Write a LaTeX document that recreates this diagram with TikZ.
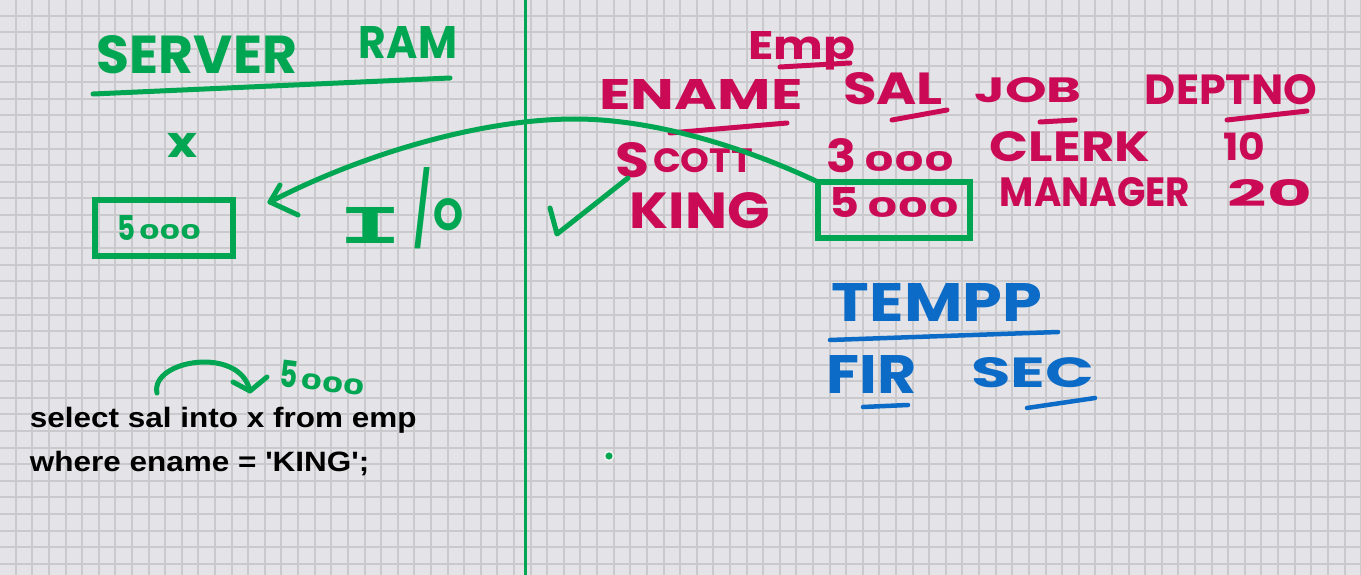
\documentclass[tikz,border=0pt]{standalone}
\usepackage{fontspec}
\usepackage{graphicx}
\newfontfamily\hand{Poppins}
\newfontfamily\codefont{Liberation Sans}
\newfontfamily\monofont{Liberation Mono}
\definecolor{bg}{HTML}{E4E3E7}
\definecolor{gridc}{HTML}{CACACD}
\definecolor{gr}{HTML}{00A651}
\definecolor{cr}{HTML}{CA0A55}
\definecolor{bl}{HTML}{0B6BC6}
\newcommand{\hw}[3]{\resizebox{#1pt}{#2pt}{\hand\bfseries #3}}
\begin{document}
\begin{tikzpicture}[x=1pt,y=-1pt,
  word/.style={inner sep=0pt, outer sep=0pt},
  gword/.style={word, text=gr},
  cword/.style={word, text=cr},
  bword/.style={word, text=bl},
  gink/.style={draw=gr, line width=5pt, line cap=round, line join=round},
  cink/.style={draw=cr, line width=5pt, line cap=round},
  bink/.style={draw=bl, line width=4.5pt, line cap=round},
  gbox/.style={draw=gr, line width=5.5pt, inner sep=0pt, outer sep=0pt},
  code/.style={word, text=black, font=\codefont\bfseries\fontsize{28}{32}\selectfont, anchor=base west}
]
\useasboundingbox (0,0) rectangle (1361,575);
\fill[bg] (0,0) rectangle (1361,575);
\foreach \i in {0,...,82} \draw[gridc, line width=2pt] ({-0.9+16.61*\i},0) -- ({-0.9+16.61*\i},575);
\foreach \j in {0,...,35} \draw[gridc, line width=2pt] (0,{-0.9+16.61*\j}) -- (1361,{-0.9+16.61*\j});

% divider
\draw[draw=gr, line width=3pt] (525,0) -- (525,575);

% left side
\node[gword] (server) at (197,55) {\hw{200}{38}{SERVER}};
\node[gword] (ram) at (408,43) {\hw{98}{32}{RAM}};
\draw[gink] (93,94) -- (450,78);
\node[gword] (xvar) at (183,145) {\hw{30}{24}{x}};
\node[gbox, minimum width=138pt, minimum height=56pt] (lbox) at (164,228) {};
\node[gword, anchor=base west] (lval) at (117,240) {\hw{18}{25}{5}\hspace{4pt}\hw{62}{15}{000}};
\node[gword, anchor=base west] (io) at (338,243)
  {\resizebox{64pt}{36pt}{\monofont\bfseries I}\hspace{12pt}\raisebox{8pt}{\resizebox{16pt}{68pt}{\hand\bfseries /}}\hspace{3pt}\raisebox{13pt}{\resizebox{30pt}{32pt}{\hand\bfseries O}}};

% right side table
\node[cword, anchor=base west] (emp) at (748,60) {\resizebox{107pt}{28pt}{\hand\bfseries Emp}};
\draw[cink] (780,67) -- (850,63);
\node[cword] (ename) at (701,95) {\hw{203}{30}{ENAME}};
\node[cword] (sal) at (893,89) {\hw{100}{32}{SAL}};
\node[cword] (job) at (1028,90) {\hw{107}{25}{JOB}};
\node[cword] (deptno) at (1231,90) {\hw{172}{30}{DEPTNO}};
\draw[cink] (670,133) -- (787,123);
\draw[cink] (892,120) -- (947,110);
\draw[cink] (1040,122) -- (1075,120);
\draw[cink] (1227,120) -- (1307,111);

\node[cword, anchor=base west] (scott) at (615,177) {\hw{34}{35}{S}\hspace{4pt}\raisebox{5pt}{\hw{100}{24}{COTT}}};
\node[cword, anchor=base west] (s3000) at (826,172) {\hw{30}{34}{3}\hspace{8pt}\hw{90}{20}{000}};
\node[cword] (clerk) at (1070,147) {\hw{160}{30}{CLERK}};
\node[cword] (d10) at (1244,146) {\hw{42}{28}{10}};

\node[cword] (king) at (700,211) {\hw{140}{36}{KING}};
\node[cword, anchor=base west] (s5000) at (829,218) {\hw{30}{30}{5}\hspace{8pt}\hw{92}{20}{000}};
\node[cword] (manager) at (1095,192) {\hw{190}{29}{MANAGER}};
\node[cword] (d20) at (1270,193) {\hw{84}{27}{20}};

\node[gbox, minimum width=152pt, minimum height=56pt] (rbox) at (894,210) {};

% blue
\node[bword] (tempp) at (937,302) {\hw{210}{38}{TEMPP}};
\draw[bink] (830,340) -- (1058,332);
\node[bword] (fir) at (872,374) {\hw{90}{38}{FIR}};
\node[bword] (sec) at (1033,373) {\hw{123}{30}{SEC}};
\draw[bink] (863,407) -- (908,405);
\draw[bink] (1027,408) -- (1095,398);

% big I/O arrow
\coordinate (tip) at (270,202);
\coordinate (mid) at (575,119);
\draw[gink] (rbox.north west) .. controls (740,145) and (650,119) .. (mid)
  .. controls (480,119) and (360,155) .. (tip);
\draw[gink] (280,185) -- (tip) -- (298,215);

% check mark
\coordinate (ck1) at (550,208);
\coordinate (ck2) at (557,234);
\coordinate (ck3) at (628,178);
\draw[gink] (ck1) -- (ck2) -- (ck3);

% bottom left
\node[code] (line1) at (30,427) {\scalebox{1.124}[1]{select sal into x from emp}};
\node[code] (line2) at (30,471) {\scalebox{1.124}[1]{where ename = 'KING';}};
\coordinate (sa) at (157,393);
\coordinate (sb) at (250,391);
\draw[gink] (sa) .. controls (150,360) and (240,345) .. (sb);
\draw[gink] (233,382) -- (sb) -- (267,377);
\node[gword, rotate=-7, anchor=base west] (b5000) at (278,386) {\hw{18}{27}{5}\hspace{4pt}\hw{64}{16}{000}};

% small dot
\node[circle, draw=white!75!gridc, line width=1.5pt, fill=gr, minimum size=9pt, inner sep=0pt] (dot) at (609,456) {};
\end{tikzpicture}
\end{document}
